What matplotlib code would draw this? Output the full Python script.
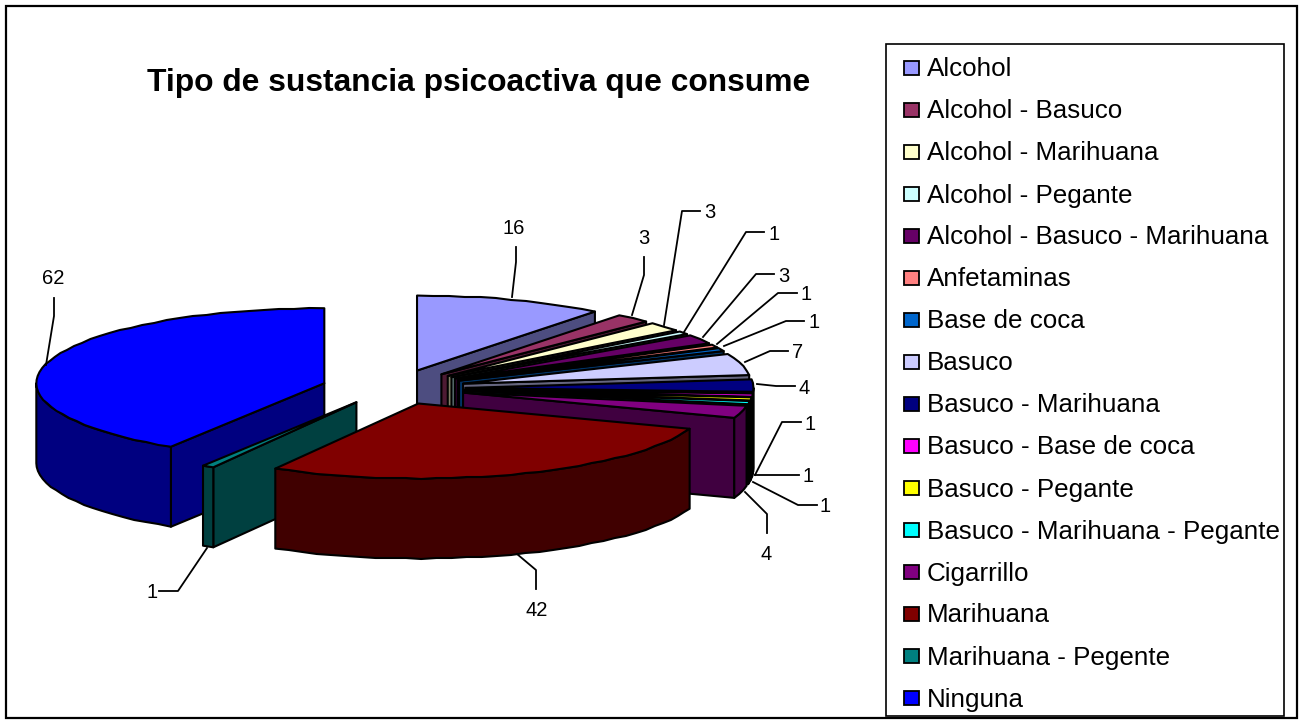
import numpy as np
import matplotlib
matplotlib.use('Agg')
import matplotlib.pyplot as plt
from matplotlib.patches import Polygon, Rectangle

plt.rcParams['font.family'] = ['Liberation Sans', 'DejaVu Sans']

# datos del grafico
categorias = ['Alcohol', 'Alcohol - Basuco', 'Alcohol - Marihuana', 'Alcohol - Pegante',
              'Alcohol - Basuco - Marihuana', 'Anfetaminas', 'Base de coca', 'Basuco',
              'Basuco - Marihuana', 'Basuco - Base de coca', 'Basuco - Pegante',
              'Basuco - Marihuana - Pegante', 'Cigarrillo', 'Marihuana',
              'Marihuana - Pegente', 'Ninguna']
valores = [16, 3, 3, 1, 3, 1, 1, 7, 4, 1, 1, 1, 4, 42, 1, 62]
colores = ['#9999FF', '#993366', '#FFFFCC', '#CCFFFF', '#660066', '#FF8080', '#0066CC', '#CCCCFF',
           '#000080', '#FF00FF', '#FFFF00', '#00FFFF', '#800080', '#800000', '#008080', '#0000FF']
titulo = 'Tipo de sustancia psicoactiva que consume'

# geometria de la torta, en pixeles
cx, cy = 393.5, 388.5
ra, rb = 288, 75
ea = 72
eb_atras, eb_frente = 19, 16
prof = 80
lw = 1.5

# lineas guia y posicion de cada etiqueta (mismo orden que valores)
guias = [
    [(512, 297), (516, 262), (516, 247)],
    [(632, 315), (644, 275), (644, 257)],
    [(664, 325), (682, 211), (700, 211)],
    [(684, 332), (746, 232), (764, 232)],
    [(703, 337), (756, 274), (774, 274)],
    [(717, 344), (778, 293), (797, 293)],
    [(724, 346), (786, 321), (804, 321)],
    [(745, 362), (770, 351), (788, 351)],
    [(757, 384), (776, 386), (795, 386)],
    [(755, 475), (782, 422), (801, 422)],
    [(755, 475), (780, 475), (799, 475)],
    [(753, 482), (798, 505), (817, 505)],
    [(745, 492), (767, 514), (767, 533)],
    [(517, 554), (536, 570), (536, 589)],
    [(207, 548), (178, 591), (159, 591)],
    [(46, 365), (54, 316), (54, 298)],
]
pos_etiquetas = [(514, 228), (644, 238), (710, 212), (774, 233), (784, 275), (806, 293), (814, 322),
                 (798, 352), (804, 387), (810, 423), (808, 476), (825, 505), (766, 554), (537, 610),
                 (152, 592), (53, 278)]


def oscuro(color):
    return tuple(c * 0.5 for c in matplotlib.colors.to_rgb(color))


def arco(x0, y0, t1, t2):
    # el borde del original es un poco dentado: y en pasos de 1 px
    n = max(int(abs(t2 - t1) / 3), 1) + 1
    t = np.radians(np.linspace(t1, t2, n))
    y = y0 - rb * np.cos(t)
    y[1:-1] = np.round(y[1:-1])
    return np.column_stack([x0 + ra * np.sin(t), y])


def dibujar_tajada(ax, t1, t2, color):
    medio = np.radians((t1 + t2) / 2)
    eb = eb_atras if np.cos(medio) > 0 else eb_frente
    x0 = cx + ea * np.sin(medio)
    y0 = cy - eb * np.cos(medio)
    lado = oscuro(color)
    borde = dict(edgecolor='black', linewidth=lw, joinstyle='round')

    # caras radiales visibles
    for t, visible in ((t1, t1 > 180), (t2, t2 < 180)):
        if visible:
            p = arco(x0, y0, t, t + 0.001)[0]
            ax.add_patch(Polygon([(x0, y0), p, (p[0], p[1] + prof), (x0, y0 + prof)],
                                 facecolor=lado, **borde))

    # superficie exterior, solo la parte de adelante
    a, b = max(t1, 90), min(t2, 270)
    if a < b:
        arriba = arco(x0, y0, a, b)
        abajo = arriba[::-1] + [0, prof]
        ax.add_patch(Polygon(np.vstack([arriba, abajo]), facecolor=lado, **borde))

    # cara superior
    ax.add_patch(Polygon(np.vstack([[(x0, y0)], arco(x0, y0, t1, t2)]), facecolor=color, **borde))


fig = plt.figure(figsize=(13.04, 7.2), dpi=100)
ax = fig.add_axes([0, 0, 1, 1])
ax.set_xlim(0, 1304)
ax.set_ylim(720, 0)
ax.axis('off')

# marco exterior
ax.add_patch(Rectangle((5.5, 5.5), 1291.5, 712, facecolor='white', edgecolor='black', linewidth=1.6))

ax.text(478.5, 83, titulo, fontsize=22.9, fontweight='bold', ha='center', va='center')

# tajadas: angulos acumulados, en sentido horario desde arriba
bordes = np.cumsum([0] + valores) / sum(valores) * 360
orden = list(range(13)) + [15, 14, 13]
for i in orden:
    dibujar_tajada(ax, bordes[i], bordes[i + 1], colores[i])

for i, v in enumerate(valores):
    xs, ys = zip(*guias[i])
    ax.plot(xs, ys, color='black', lw=1.3, solid_joinstyle='round')
    ax.text(pos_etiquetas[i][0], pos_etiquetas[i][1] + 1, str(v), fontsize=14.5, ha='center', va='center')

# leyenda
ax.add_patch(Rectangle((886, 44), 398, 672, facecolor='white', edgecolor='black', linewidth=1.2))
for i, cat in enumerate(categorias):
    y = 68 + 42 * i
    ax.add_patch(Rectangle((904, y - 7.5), 14.5, 14.5, facecolor=colores[i], edgecolor='black', linewidth=1.3))
    ax.text(927, y + 1.5, cat, fontsize=18.7, ha='left', va='center')

fig.savefig('out.png', dpi=100)
